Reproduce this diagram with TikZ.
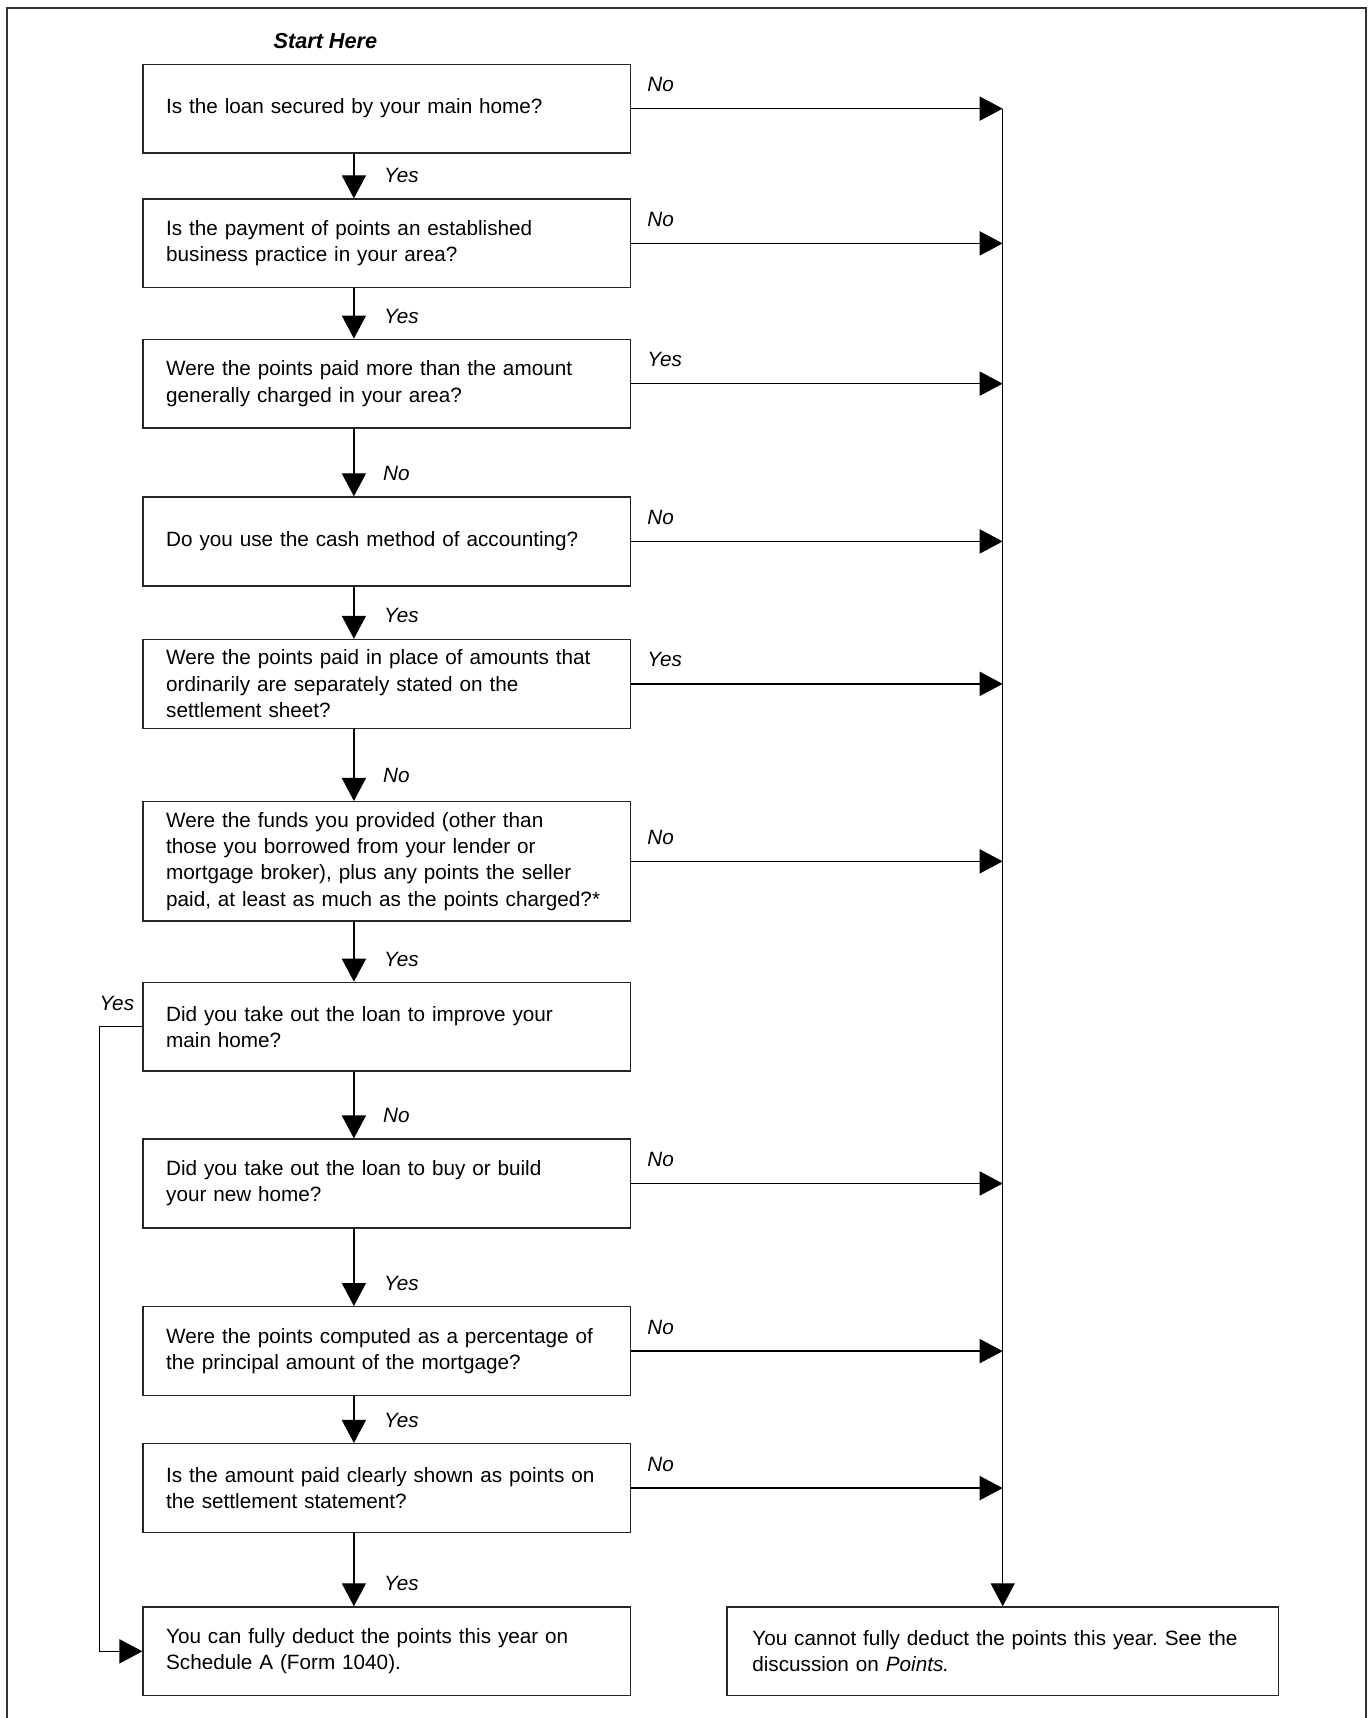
\documentclass[tikz,border=0pt]{standalone}
\usepackage{fontspec}
\setmainfont{Liberation Sans}
\usetikzlibrary{arrows.meta,calc}
\begin{document}
\frenchspacing
\begin{tikzpicture}[x=0.5pt,y=-0.5pt,
  box/.style={draw=black!85, line width=0.65pt, rectangle, anchor=north west,
    minimum width=222.5pt, minimum height=40.5pt, text width=201.5pt,
    inner xsep=10.5pt, inner ysep=0pt, align=left,
    font=\fontsize{9.45}{12}\selectfont},
  arr/.style={draw=black, line width=0.6pt, -{Triangle[length=10.5pt,width=11pt]}},
  lbl/.style={font=\fontsize{9.45}{12}\selectfont\itshape, inner sep=0pt},
  frame/.style={draw=black!80, line width=0.8pt}]
\useasboundingbox (0,0) rectangle (1248,1568);
\draw[frame] (6.5,1568) -- (6.5,7) -- (1246.5,7) -- (1246.5,1568);

\node[font=\fontsize{9.9}{12}\selectfont\bfseries\itshape] (start) at (297,37) {Start Here};

\node[box] (b1) at (130,58) {Is the loan secured by your main home?};
\node[box] (b2) at (130,181) {Is the payment of points an established\\business practice in your area?};
\node[box] (b3) at (130,309) {Were the points paid more than the amount\\generally charged in your area?};
\node[box] (b4) at (130,453) {Do you use the cash method of accounting?};
\node[box] (b5) at (130,583) {Were the points paid in place of amounts that\\ordinarily are separately stated on the\\settlement sheet?};
\node[box, minimum height=54.5pt] (b6) at (130,731) {Were the funds you provided (other than\\those you borrowed from your lender or\\mortgage broker), plus any points the seller\\paid, at least as much as the points charged?*};
\node[box] (b7) at (130,896) {Did you take out the loan to improve your\\main home?};
\node[box] (b8) at (130,1039) {Did you take out the loan to buy or build\\your new home?};
\node[box] (b9) at (130,1192) {Were the points computed as a percentage of\\the principal amount of the mortgage?};
\node[box] (b10) at (130,1317) {Is the amount paid clearly shown as points on\\the settlement statement?};
\node[box] (b11) at (130,1466) {You can fully deduct the points this year on\\Schedule A (Form 1040).};
\node[box, minimum width=251.5pt, text width=228.5pt, inner xsep=11.5pt] (r) at (663,1466) {You cannot fully deduct the points this year. See the\\discussion on \textit{Points.}};

\coordinate (ax) at (323,0);
\coordinate (lx) at (91,0);

% down arrows
\draw[arr] (b1.south -| ax) -- (b2.north -| ax) node[lbl, anchor=west, xshift=13.5pt, yshift=10.25pt] {Yes};
\draw[arr] (b2.south -| ax) -- (b3.north -| ax) node[lbl, anchor=west, xshift=13.5pt, yshift=10.25pt] {Yes};
\draw[arr] (b3.south -| ax) -- (b4.north -| ax) node[lbl, anchor=west, xshift=13pt, yshift=10.5pt] {No};
\draw[arr] (b4.south -| ax) -- (b5.north -| ax) node[lbl, anchor=west, xshift=13.5pt, yshift=10.5pt] {Yes};
\draw[arr] (b5.south -| ax) -- (b6.north -| ax) node[lbl, anchor=west, xshift=13pt, yshift=11.5pt] {No};
\draw[arr] (b6.south -| ax) -- (b7.north -| ax) node[lbl, anchor=west, xshift=13.5pt, yshift=10.25pt] {Yes};
\draw[arr] (b7.south -| ax) -- (b8.north -| ax) node[lbl, anchor=west, xshift=13pt, yshift=10.25pt] {No};
\draw[arr] (b8.south -| ax) -- (b9.north -| ax) node[lbl, anchor=west, xshift=13.5pt, yshift=10.5pt] {Yes};
\draw[arr] (b9.south -| ax) -- (b10.north -| ax) node[lbl, anchor=west, xshift=13.5pt, yshift=10.25pt] {Yes};
\draw[arr] (b10.south -| ax) -- (b11.north -| ax) node[lbl, anchor=west, xshift=13.5pt, yshift=10.5pt] {Yes};

% right arrows
\draw[arr] (b1.east) -- node[lbl, pos=0, anchor=west, xshift=7pt, yshift=11pt] {No} (b1.east -| r.north);
\draw[arr] (b2.east) -- node[lbl, pos=0, anchor=west, xshift=7pt, yshift=11pt] {No} (b2.east -| r.north);
\draw[arr] (b3.east) -- node[lbl, pos=0, anchor=west, xshift=7pt, yshift=11pt] {Yes} (b3.east -| r.north);
\draw[arr] (b4.east) -- node[lbl, pos=0, anchor=west, xshift=7pt, yshift=11pt] {No} (b4.east -| r.north);
\draw[arr] (b5.east) -- node[lbl, pos=0, anchor=west, xshift=7pt, yshift=11pt] {Yes} (b5.east -| r.north);
\draw[arr] (b6.east) -- node[lbl, pos=0, anchor=west, xshift=7pt, yshift=11pt] {No} (b6.east -| r.north);
\draw[arr] (b8.east) -- node[lbl, pos=0, anchor=west, xshift=7pt, yshift=11pt] {No} (b8.east -| r.north);
\draw[arr] (b9.east) -- node[lbl, pos=0, anchor=west, xshift=7pt, yshift=11pt] {No} (b9.east -| r.north);
\draw[arr] (b10.east) -- node[lbl, pos=0, anchor=west, xshift=7pt, yshift=11pt] {No} (b10.east -| r.north);

% vertical collector line
\draw[arr] (b1.east -| r.north) -- (r.north);

% left loop
\draw[arr] (b7.west) -- node[lbl, pos=0, anchor=east, xshift=-3.5pt, yshift=10.5pt] {Yes} (b7.west -| lx) -- (b11.west -| lx) -- (b11.west);
\end{tikzpicture}
\end{document}
